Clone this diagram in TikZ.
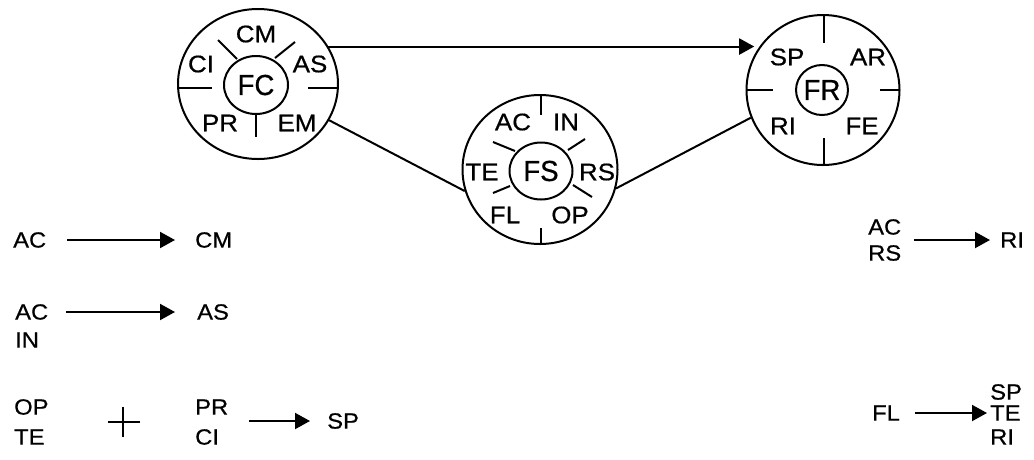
\documentclass[tikz,border=0pt]{standalone}
\usepackage{fontspec}
\setmainfont{Liberation Sans}[FakeStretch=1.08,FakeBold=0.6]
\newfontfamily\centerfont{Liberation Sans}[FakeStretch=0.95,FakeBold=0.6]
\usetikzlibrary{shapes.geometric,arrows.meta}
\begin{document}
\begin{tikzpicture}[x=1pt,y=-1pt,
 lbl/.style={inner sep=0pt,font=\fontsize{24}{27}\selectfont},
 txt/.style={inner sep=0pt,anchor=west,font=\fontsize{22}{25}\selectfont},
 outerc/.style={ellipse,draw,line width=2pt,inner sep=0pt},
 innerc/.style={ellipse,draw,line width=2pt,inner sep=0pt,font=\centerfont\fontsize{29}{32}\selectfont},
 arr/.style={line width=2pt,-{Triangle[length=15pt,width=16pt]}},
 conn/.style={line width=2pt}]
\useasboundingbox (0,0) rectangle (1034,459);

% ---------- FC ----------
\node[outerc,minimum width=160pt,minimum height=150pt] (FC) at (258,84) {};
\node[innerc,minimum width=64pt,minimum height=58pt] (FCi) at (256,85) {FC};
\node[lbl] (fcCM) at (256,34) {CM};
\node[lbl] (fcCI) at (201,64) {CI};
\node[lbl] (fcAS) at (310,64) {AS};
\node[lbl] (fcPR) at (220,123) {PR};
\node[lbl] (fcEM) at (297,123) {EM};
\draw[conn] (218,40) -- (237,59);
\draw[conn] (295,42) -- (275,58);
\draw[conn] (178,88) -- (212,88);
\draw[conn] (308,88) -- (338,88);
\draw[conn] (256,113) -- (256,137);

% ---------- FR ----------
\node[outerc,minimum width=153pt,minimum height=150pt] (FR) at (823,90) {};
\node[innerc,minimum width=51pt,minimum height=50pt] (FRi) at (822,90) {FR};
\node[lbl] (frSP) at (787,57) {SP};
\node[lbl] (frAR) at (868,57) {AR};
\node[lbl] (frRI) at (783,126) {RI};
\node[lbl] (frFE) at (862,126) {FE};
\draw[conn] (824,15) -- (824,43);
\draw[conn] (824,138) -- (824,165);
\draw[conn] (746,90) -- (773,90);
\draw[conn] (880,90) -- (899,90);

% ---------- FS ----------
\node[outerc,minimum width=155pt,minimum height=149pt] (FS) at (540,169.5) {};
\node[innerc,minimum width=63pt,minimum height=57pt] (FSi) at (541,171) {FS};
\node[lbl] (fsAC) at (513,122) {AC};
\node[lbl] (fsIN) at (566,122) {IN};
\node[lbl] (fsTE) at (482,172) {TE};
\node[lbl] (fsRS) at (597,172) {RS};
\node[lbl] (fsFL) at (505,215) {FL};
\node[lbl] (fsOP) at (570,215) {OP};
\draw[conn] (541,95) -- (541,115);
\draw[conn] (541,228) -- (541,244);
\draw[conn] (493,142) -- (515,151);
\draw[conn] (585,139) -- (568,150);
\draw[conn] (493,193) -- (510,186);
\draw[conn] (592,197) -- (573,185);

% ---------- connectors between circles ----------
\draw[arr] (FC.28) -- (FC.28 -| FR.153);
\draw[conn] (FC.-27) -- (FS.196);
\draw[conn] (FS.-14) -- (FR.201);

% ---------- rules, left ----------
\node[txt] (a1) at (13,240) {AC};
\node[txt] (b1) at (195,240) {CM};
\draw[arr,shorten <=21pt,shorten >=20pt] (a1.east) -- (b1.west);

\node[txt] (a2) at (15,312) {AC};
\node[txt] (a2b) at (15,340) {IN};
\node[txt] (b2) at (197,312) {AS};
\draw[arr,shorten <=18pt,shorten >=22pt] (a2.east) -- (b2.west);

\node[txt] (a3) at (14,407) {OP};
\node[txt] (a3b) at (14,437) {TE};
\draw[line width=1.3pt] (108,422) -- (140,422);
\draw[line width=1.3pt] (123,407) -- (123,437);
\node[txt] (c3) at (195,407) {PR};
\node[txt] (c3b) at (195,437) {CI};
\node[txt] (b3) at (327,421) {SP};
\draw[arr,shorten <=21pt,shorten >=17pt] (c3.east |- b3.west) -- (b3.west);

% ---------- rules, right ----------
\node[txt] (a4) at (868,227) {AC};
\node[txt] (a4b) at (868,253) {RS};
\node[txt] (b4) at (1000,240) {RI};
\draw[arr,shorten <=13pt,shorten >=10pt] (a4.east |- b4.west) -- (b4.west);

\node[txt] (a5) at (872,413) {FL};
\node[txt] (b5a) at (990,392) {SP};
\node[txt] (b5) at (990,413) {TE};
\node[txt] (b5c) at (990,437) {RI};
\draw[arr,shorten <=15pt,shorten >=3pt] (a5.east) -- (b5.west);
\end{tikzpicture}
\end{document}
